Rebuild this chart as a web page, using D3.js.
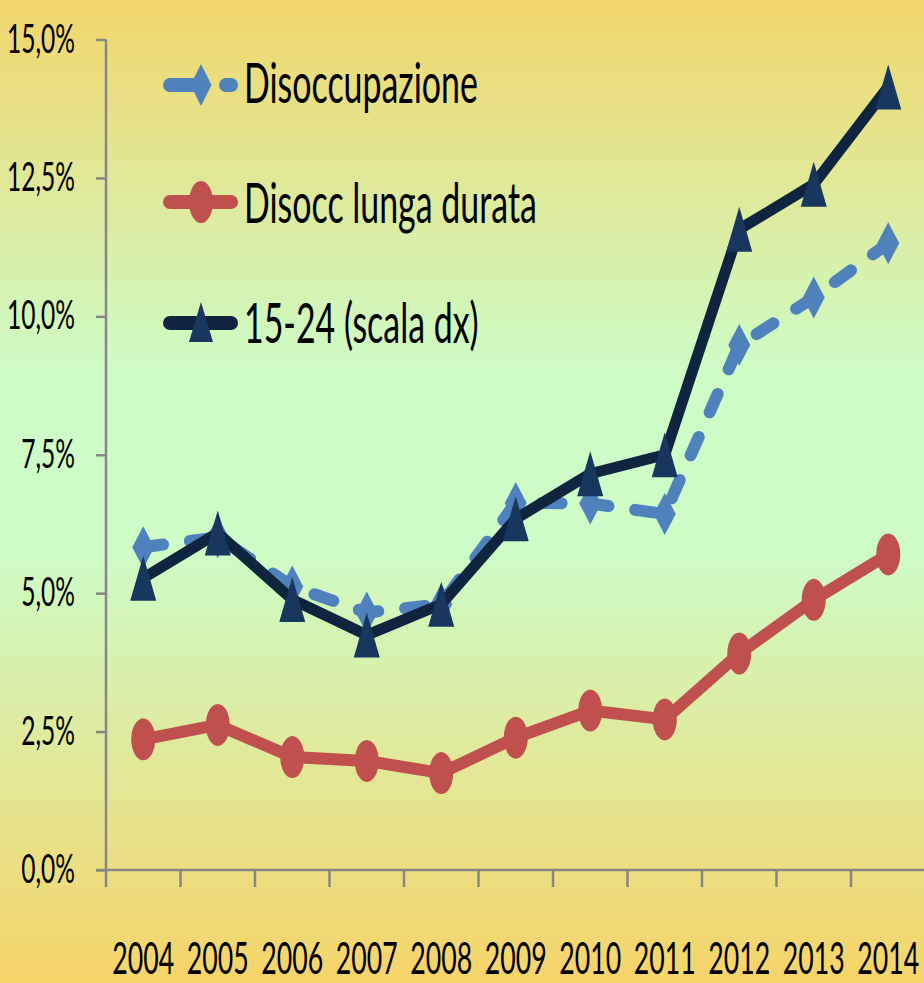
<!DOCTYPE html>
<html><head><meta charset="utf-8">
<script src="https://cdn.jsdelivr.net/npm/d3@7"></script>
<style>html,body{margin:0;padding:0;background:#fff;}svg{display:block;}</style>
</head><body>
<script>
const years = ["2004","2005","2006","2007","2008","2009","2010","2011","2012","2013","2014"];
const disoccupazione = [5.83, 6.01, 5.12, 4.65, 4.80, 6.63, 6.62, 6.43, 9.48, 10.34, 11.32];
const disoccLunga = [2.36, 2.62, 2.04, 1.97, 1.75, 2.39, 2.88, 2.72, 3.91, 4.88, 5.70];
// 15-24 on the (hidden) right-hand scale
const giovani = [22.3, 24.2, 21.4, 19.9, 21.2, 24.8, 26.7, 27.5, 37.0, 38.9, 43.0];
const yTicks = [0, 2.5, 5, 7.5, 10, 12.5, 15];
const seriesNames = ["Disoccupazione", "Disocc lunga durata", "15-24 (scala dx)"];

const W = 924, H = 983;
const svg = d3.select("body").append("svg").attr("width", W).attr("height", H);
const defs = svg.append("defs");
const grad = defs.append("linearGradient").attr("id","bg").attr("x1",0).attr("y1",0).attr("x2",0).attr("y2",1);
[[0,"#f2d66b"],[0.38,"#cdfcc7"],[0.56,"#cdfcc7"],[1,"#f6d468"]].forEach(s=>grad.append("stop").attr("offset",s[0]).attr("stop-color",s[1]));
svg.append("rect").attr("width",W).attr("height",H).attr("fill","url(#bg)");

const x = d3.scaleBand().domain(years).range([106, 925.5]).padding(0);
const y = d3.scaleLinear().domain([0, 15]).range([870, 39.5]);
const yR = d3.scaleLinear().domain([10, 45]).range([870, 39.5]);
const cx = d => x(d) + x.bandwidth()/2;

const FONT = "Lato, 'Open Sans', sans-serif";
function measure(txt, size){ const t=svg.append("text").style("font-family",FONT).style("font-size",size+"px").text(txt); const n=t.node().getComputedTextLength(); t.remove(); return n; }

// Y axis
const yAxis = d3.axisLeft(y).tickValues(yTicks).tickSize(10).tickFormat(d=>d3.format(".1f")(d).replace(".",",")+"%");
const gy = svg.append("g").attr("transform","translate(106,0)").call(yAxis);
gy.select(".domain").attr("stroke","#868686").attr("stroke-width",2.5).attr("d","M0,39.5V870");
gy.selectAll(".tick line").attr("stroke","#868686").attr("stroke-width",2.5);
const ky = 68/measure("15,0%",40);
gy.selectAll(".tick text").attr("x",0).attr("y",0).attr("dy",null)
  .attr("transform",`translate(-31,12.5) scale(${ky},1)`)
  .style("font-family",FONT).style("font-size","40px").attr("fill","#000");

// X axis
const xAxis = d3.axisBottom(x).tickSize(0).tickFormat(d=>d);
const gx = svg.append("g").attr("transform","translate(0,870)").call(xAxis);
gx.select(".domain").attr("stroke","#868686").attr("stroke-width",2.5).attr("d","M96,0H924");
const kx = 62/measure("2004",45);
gx.selectAll(".tick text").attr("x",0).attr("y",0).attr("dy",null)
  .attr("transform",`translate(0,104) scale(${kx},1)`)
  .style("font-family",FONT).style("font-size","45px").attr("fill","#000");
const bounds = years.map(d=>x(d)).concat([x(years[years.length-1])+x.bandwidth()]);
svg.append("g").selectAll("line").data(bounds).join("line")
  .attr("x1",d=>d).attr("x2",d=>d).attr("y1",870).attr("y2",887).attr("stroke","#868686").attr("stroke-width",2.5);

const BLUE="#4f81bd", RED="#c0504d", NAVY="#0f243e", NAVYM="#17375e";
const diamond = (w,h)=>`M0,${-h/2}L${w/2},0L0,${h/2}L${-w/2},0Z`;
const tri = (w,h)=>`M0,${-h/2}L${w/2},${h/2}L${-w/2},${h/2}Z`;

// Disoccupazione (dashed)
const lineL = d3.line().x((d,i)=>cx(years[i])).y(d=>y(d));
svg.append("path").datum(disoccupazione).attr("d",lineL).attr("fill","none").attr("stroke",BLUE)
  .attr("stroke-width",12).attr("stroke-dasharray","20,27").attr("stroke-linecap","round").attr("stroke-linejoin","round");
svg.append("g").selectAll("path").data(disoccupazione).join("path")
  .attr("d",diamond(22,42)).attr("transform",(d,i)=>`translate(${cx(years[i])},${y(d)})`).attr("fill",BLUE);

// Disocc lunga durata
svg.append("path").datum(disoccLunga).attr("d",lineL).attr("fill","none").attr("stroke",RED)
  .attr("stroke-width",12).attr("stroke-linejoin","round");
svg.append("g").selectAll("ellipse").data(disoccLunga).join("ellipse")
  .attr("cx",(d,i)=>cx(years[i])).attr("cy",d=>y(d)).attr("rx",12).attr("ry",21).attr("fill",RED);

// 15-24 (right scale)
const lineR = d3.line().x((d,i)=>cx(years[i])).y(d=>yR(d));
svg.append("path").datum(giovani).attr("d",lineR).attr("fill","none").attr("stroke",NAVY)
  .attr("stroke-width",11).attr("stroke-linejoin","round");
svg.append("g").selectAll("path").data(giovani).join("path")
  .attr("d",tri(26,45)).attr("transform",(d,i)=>`translate(${cx(years[i])},${yR(d)})`).attr("fill",NAVYM);

// Legend
const leg = svg.append("g");
const rows = [85, 202, 323];
const baselines = [103, 223, 343];
leg.append("path").attr("d",`M170,${rows[0]}H231`).attr("stroke",BLUE).attr("stroke-width",14).attr("stroke-linecap","round").attr("stroke-dasharray","23,33,5");
leg.append("path").attr("d",diamond(21,42)).attr("transform",`translate(201,${rows[0]})`).attr("fill",BLUE);
leg.append("path").attr("d",`M170,${rows[1]}H231`).attr("stroke",RED).attr("stroke-width",14).attr("stroke-linecap","round");
leg.append("ellipse").attr("cx",201).attr("cy",rows[1]).attr("rx",12).attr("ry",21).attr("fill",RED);
leg.append("path").attr("d",`M170,${rows[2]}H231`).attr("stroke",NAVY).attr("stroke-width",14).attr("stroke-linecap","round");
leg.append("path").attr("d",tri(24,40)).attr("transform",`translate(201,${rows[2]-1})`).attr("fill",NAVYM);
const kl = 234/measure(seriesNames[0],56);
leg.selectAll("text").data(seriesNames).join("text").attr("x",0).attr("y",0)
  .attr("transform",(d,i)=>`translate(244,${baselines[i]}) scale(${kl},1)`)
  .style("font-family",FONT).style("font-size","56px").attr("fill","#000").text(d=>d);
</script>
</body></html>
